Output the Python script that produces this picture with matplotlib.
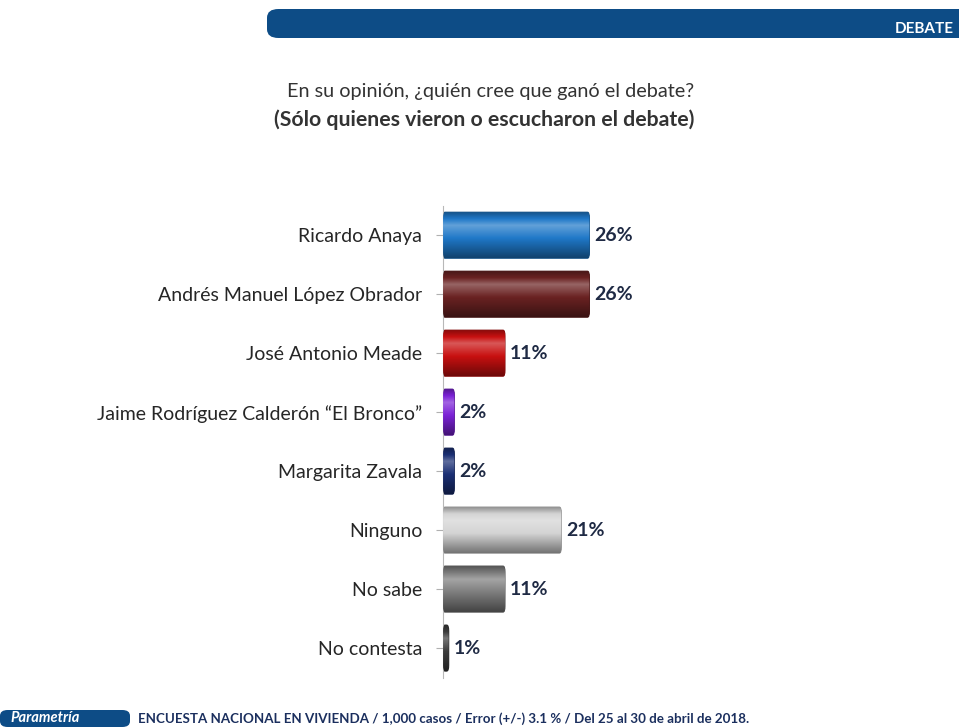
import matplotlib
matplotlib.use("Agg")
import matplotlib.pyplot as plt
import numpy as np
from matplotlib.patches import FancyBboxPatch
import matplotlib.colors as mcolors

categories = ["Ricardo Anaya", "Andrés Manuel López Obrador", "José Antonio Meade",
              "Jaime Rodríguez Calderón “El Bronco”", "Margarita Zavala",
              "Ninguno", "No sabe", "No contesta"]
values = [26, 26, 11, 2, 2, 21, 11, 1]
value_labels = ["26%", "26%", "11%", "2%", "2%", "21%", "11%", "1%"]
bar_colors = ["#1f78c8", "#6a2222", "#c81010", "#7b22d6", "#1b2f74",
              "#d4d4d4", "#7d7d7d", "#3c3c3c"]

title1 = "En su opinión, ¿quién cree que ganó el debate?"
title2 = "(Sólo quienes vieron o escucharon el debate)"
footer = "ENCUESTA NACIONAL EN VIVIENDA / 1,000 casos / Error (+/-) 3.1 % / Del 25 al 30 de abril de 2018."
header = "DEBATE"
logo_text = "Parametría"

plt.rcParams['font.family'] = ['Lato', 'DejaVu Sans']

fig = plt.figure(figsize=(9.59, 7.27), dpi=100)
fig.patch.set_facecolor("white")

ax = fig.add_axes([0.462, 0.068, 0.27, 0.649])
n = len(categories)
y = np.arange(n)
bh = 0.78
ax.set_xlim(0, 46)
ax.set_ylim(n - 0.5, -0.5)

def shade(c, f):
    r = np.array(mcolors.to_rgb(c))
    if f >= 0:
        return tuple(r + (1 - r) * f)
    return tuple(r * (1 + f))

for i, (v, c) in enumerate(zip(values, bar_colors)):
    patch = FancyBboxPatch((0, i - bh / 2), v, bh,
                           boxstyle="round,pad=0,rounding_size=0.35",
                           mutation_aspect=1 / 3.5,
                           facecolor=c, edgecolor=shade(c, -0.35), linewidth=0.8, zorder=2)
    ax.add_patch(patch)
    t = np.linspace(0, 1, 64)
    prof = np.where(t < 0.3, -0.35 + (t / 0.3) * 0.65, 0.3 - (t - 0.3) / 0.7 * 0.75)
    grad = np.array([shade(c, p) for p in prof]).reshape(-1, 1, 3)
    im = ax.imshow(grad, extent=(0, v, i + bh / 2, i - bh / 2), aspect="auto",
                   zorder=3, interpolation="bilinear")
    im.set_clip_path(patch)
    ax.text(v + 0.9, i, value_labels[i], va="center", ha="left", fontsize=14,
            fontweight="bold", color="#1f2a44", zorder=4)

ax.set_yticks(y)
ax.set_yticklabels(categories, fontsize=14, color="#262626")
ax.tick_params(axis="y", length=5, color="#b0b0b0", pad=10)
ax.set_xticks([])
for s in ["top", "right", "bottom"]:
    ax.spines[s].set_visible(False)
ax.spines["left"].set_color("#b8b8b8")
ax.set_facecolor("none")

# titles
fig.text(0.512, 1 - 92 / 727, title1, ha="center", va="center", fontsize=14.3, color="#333333")
fig.text(0.505, 1 - 120 / 727, title2, ha="center", va="center", fontsize=15.3,
         fontweight="bold", color="#333333")

# header band
hdr = FancyBboxPatch((267 / 959, 1 - 38 / 727), 0.8, 29 / 727,
                     boxstyle="round,pad=0,rounding_size=0.012",
                     transform=fig.transFigure, facecolor="#0d4c86", edgecolor="none")
fig.add_artist(hdr)
fig.text(954 / 959, 1 - 29 / 727, header, ha="right", va="center", fontsize=11,
         fontweight="bold", color="white")

# footer
logo = FancyBboxPatch((0, 0), 130 / 959, 17 / 727, boxstyle="round,pad=0,rounding_size=0.008",
                      transform=fig.transFigure, facecolor="#0d4c86", edgecolor="none")
fig.add_artist(logo)
fig.text(10 / 959, 8.5 / 727, logo_text, ha="left", va="center", fontsize=10.5,
         fontstyle="italic", fontweight="bold", color="white")
fig.text(138 / 959, 8.5 / 727, footer, ha="left", va="center", fontsize=9.6,
         fontweight="bold", color="#1b2f5e")

fig.savefig("out.png", dpi=100)
